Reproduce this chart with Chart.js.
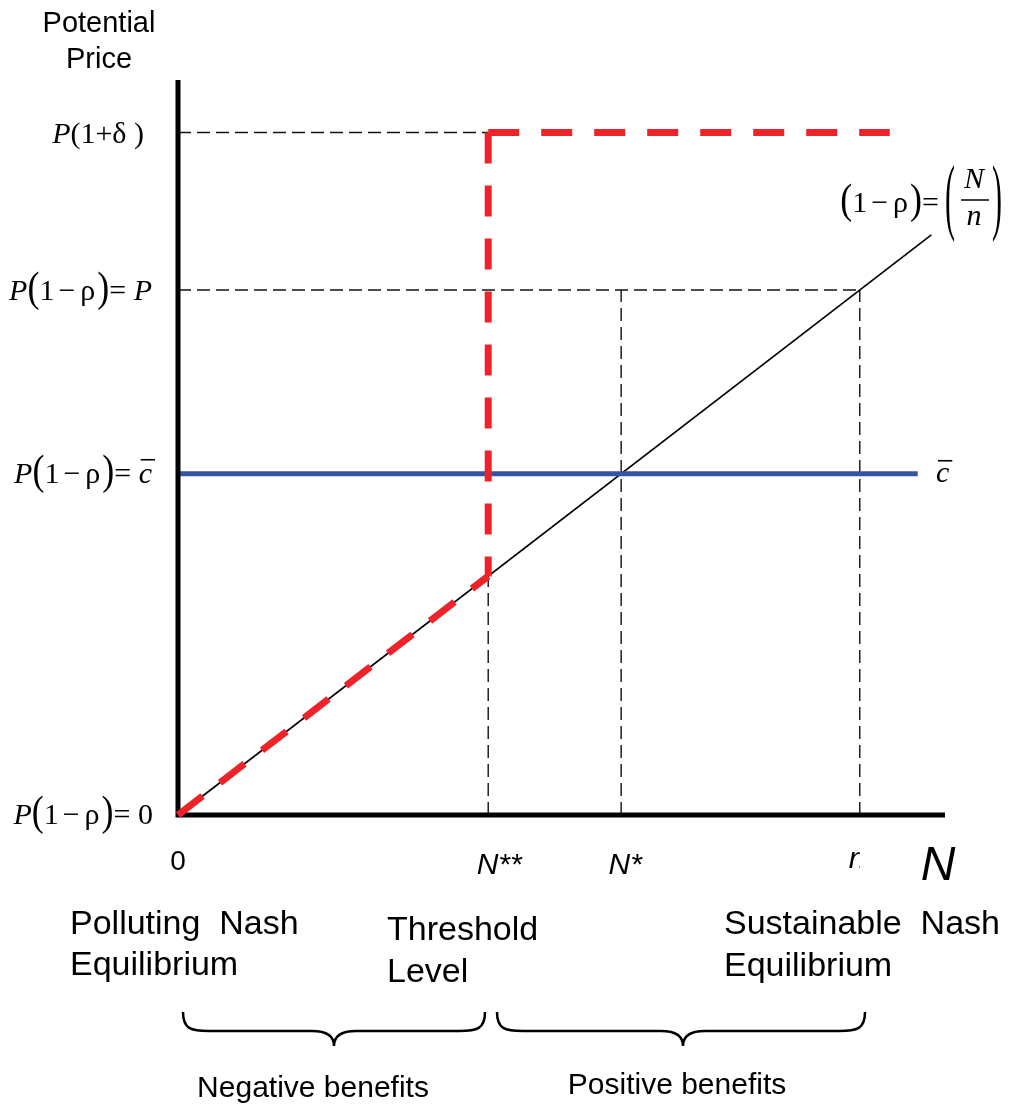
<!DOCTYPE html>
<html>
<head>
<meta charset="utf-8">
<title>Threshold level</title>
<script src="https://cdn.jsdelivr.net/npm/chart.js@4.4.0/dist/chart.umd.min.js"></script>
<style>
  html, body { margin: 0; padding: 0; background: #fff; }
  canvas { display: block; }
</style>
</head>
<body>
<canvas id="thresholdChart" width="1009" height="1104"></canvas>
<script>
// Potential price against the number of conforming players N (P and n scaled to 1)
const axisMaxN = 1.125;
const axisMaxP = 1.4;

const xTickValues = [0, 0.455, 0.65, 1.0];          // 0, N**, N*, n
const xTickLabels = ['0', 'N**', 'N*', 'n'];
const yTickValues = [1.3, 1.0, 0.65, 0];            // P(1+δ), P, c̄, 0

// (1-ρ) = N/n
const priceLineN = [0, 1.105];
const priceLineP = [0, 1.105];

// cost level c̄
const costLineN = [0, 1.085];
const costLineP = [0.65, 0.65];

// red threshold path, one piece per side so each dash run starts at its corner
const thresholdSlopeN = [0, 0.455];
const thresholdSlopeP = [0, 0.455];
const thresholdJumpN = [0.455, 0.455];
const thresholdJumpP = [1.3, 0.455];
const thresholdTopN = [0.455, 1.044];
const thresholdTopP = [1.3, 1.3];

// dashed guides
const guideSets = [
  { n: [0, 0.455], p: [1.3, 1.3] },
  { n: [0, 1.0], p: [1.0, 1.0] },
  { n: [0.455, 0.455], p: [0, 0.455] },
  { n: [0.65, 0.65], p: [0, 1.0] },
  { n: [1.0, 1.0], p: [0, 1.0] },
];

const pts = (xs, ys) => xs.map((x, i) => ({ x: x, y: ys[i] }));

const SERIF = 'Liberation Serif';
const SANS = 'Liberation Sans';

const lineBase = { pointRadius: 0, fill: false, tension: 0, borderCapStyle: 'butt', clip: false };
const redDash = { borderColor: '#ee2229', borderWidth: 7, borderDash: [31, 22], order: 0 };

const datasets = [
  Object.assign({}, lineBase, redDash, { data: pts(thresholdSlopeN, thresholdSlopeP) }),
  Object.assign({}, lineBase, redDash, { data: pts(thresholdJumpN, thresholdJumpP) }),
  Object.assign({}, lineBase, redDash, { data: pts(thresholdTopN, thresholdTopP) }),
  Object.assign({}, lineBase, {
    data: pts([0, 0, axisMaxN], [axisMaxP, 0, 0]),
    borderColor: '#000', borderWidth: 5, borderJoinStyle: 'miter', order: 1
  }),
  Object.assign({}, lineBase, {
    data: pts(costLineN, costLineP),
    borderColor: '#3353a5', borderWidth: 5, order: 2
  }),
  Object.assign({}, lineBase, {
    data: pts(priceLineN, priceLineP),
    borderColor: '#000', borderWidth: 1.6, order: 3
  }),
];
guideSets.forEach(g => {
  datasets.push(Object.assign({}, lineBase, {
    data: pts(g.n, g.p),
    borderColor: '#111', borderWidth: 1.4, borderDash: [13, 6], order: 4
  }));
});

// text made of pieces with different fonts; sy stretches a glyph vertically
function drawRich(ctx, parts, x, y, align) {
  let w = 0;
  parts.forEach(p => {
    ctx.font = p.f;
    p.w = ctx.measureText(p.t).width + (p.gap || 0);
    w += p.w;
  });
  let cx = align === 'right' ? x - w : (align === 'center' ? x - w / 2 : x);
  ctx.textAlign = 'left';
  ctx.textBaseline = 'alphabetic';
  parts.forEach(p => {
    ctx.font = p.f;
    if (p.sy) {
      const fs = parseFloat(p.f.match(/(\d+(\.\d+)?)px/)[1]);
      const mid = 0.255 * fs;
      ctx.save();
      ctx.translate(cx, y - mid);
      ctx.scale(1, p.sy);
      ctx.fillText(p.t, 0, mid);
      ctx.restore();
    } else {
      ctx.fillText(p.t, cx, y);
    }
    if (p.bar) {
      const gw = ctx.measureText(p.t).width;
      ctx.beginPath();
      ctx.lineWidth = 1.6;
      ctx.moveTo(cx + 2, y - p.bar);
      ctx.lineTo(cx + gw + 3, y - p.bar);
      ctx.stroke();
    }
    cx += p.w;
  });
}

function oneMinusRho(size) {
  const reg = size + 'px "' + SERIF + '"';
  const big = Math.round(size * 1.2) + 'px "' + SERIF + '"';
  return [
    { t: '(', f: big, sy: 1.15 },
    { t: '1', f: reg, gap: 4 },
    { t: '−', f: reg, gap: 5 },
    { t: 'ρ', f: reg, gap: 2 },
    { t: ')', f: big, sy: 1.15 },
  ];
}

function drawBrace(ctx, x1, x2, tip, top, mid, bottom) {
  ctx.beginPath();
  ctx.moveTo(x1, top);
  ctx.bezierCurveTo(x1, mid - 2, x1 + 8, mid, x1 + 26, mid);
  ctx.lineTo(tip - 22, mid);
  ctx.bezierCurveTo(tip - 8, mid, tip, mid + 4, tip, bottom);
  ctx.bezierCurveTo(tip, mid + 4, tip + 8, mid, tip + 22, mid);
  ctx.lineTo(x2 - 26, mid);
  ctx.bezierCurveTo(x2 - 8, mid, x2, mid - 2, x2, top);
  ctx.stroke();
}

const labelPlugin = {
  id: 'labels',
  afterDatasetsDraw(chart) {
    const ctx = chart.ctx;
    const xs = chart.scales.x, ys = chart.scales.y;
    ctx.save();
    ctx.fillStyle = '#000';
    ctx.strokeStyle = '#000';

    // axis title
    ctx.font = '29px "' + SANS + '"';
    ctx.textAlign = 'center';
    ctx.textBaseline = 'alphabetic';
    ctx.fillText('Potential', 99, 32);
    ctx.fillText('Price', 99, 68);

    // y tick labels
    const it = 'italic 30px "' + SERIF + '"';
    const rg = '30px "' + SERIF + '"';
    const yLabelParts = [
      [{ t: 'P', f: it }, { t: '(1+δ )', f: rg }],
      [{ t: 'P', f: it }].concat(oneMinusRho(30), [{ t: '= ', f: rg }, { t: 'P', f: it }]),
      [{ t: 'P', f: it }].concat(oneMinusRho(30), [{ t: '= ', f: rg }, { t: 'c', f: it, bar: 23 }]),
      [{ t: 'P', f: it }].concat(oneMinusRho(30), [{ t: '= 0', f: rg }]),
    ];
    const yLabelRight = [144, 152, 152, 153];
    const yLabelDrop = [10, 10, 9, 9];
    yTickValues.forEach((v, i) => {
      drawRich(ctx, yLabelParts[i], yLabelRight[i], ys.getPixelForValue(v) + yLabelDrop[i], 'right');
    });

    // x tick labels
    const xLabelShift = [0, 11, 4, 0];
    xTickValues.forEach((v, i) => {
      const px = xs.getPixelForValue(v) + xLabelShift[i];
      ctx.textAlign = 'center';
      if (i === 0) {
        ctx.font = '28px "' + SANS + '"';
        ctx.fillText(xTickLabels[i], px, 870);
      } else if (i === 3) {
        // the n label is cut by its box
        ctx.save();
        ctx.beginPath();
        ctx.rect(px - 20, 830, 20, 60);
        ctx.clip();
        ctx.font = 'italic 30px "' + SANS + '"';
        ctx.textAlign = 'left';
        ctx.fillText(xTickLabels[i], px - 11, 868);
        ctx.restore();
      } else {
        ctx.font = 'italic 30px "' + SANS + '"';
        ctx.fillText(xTickLabels[i], px, 874);
      }
    });

    // x axis name
    ctx.font = 'italic 48px "' + SANS + '"';
    ctx.textAlign = 'center';
    ctx.fillText('N', 938, 880);

    // c̄ at the end of the cost line
    drawRich(ctx, [{ t: 'c', f: it, bar: 21 }], 936, ys.getPixelForValue(0.65) + 8, 'left');

    // (1-ρ) = (N / n)
    drawRich(ctx, oneMinusRho(30).concat([{ t: '=', f: rg }]), 939, 212, 'right');
    const bigParen = '30px "' + SERIF + '"';
    drawRich(ctx, [{ t: '(', f: bigParen, sy: 2.8 }], 945, 210, 'left');
    drawRich(ctx, [{ t: ')', f: bigParen, sy: 2.8 }], 992, 210, 'left');
    ctx.font = it;
    ctx.textAlign = 'center';
    ctx.fillText('N', 974, 188);
    ctx.fillText('n', 974, 225);
    ctx.beginPath();
    ctx.lineWidth = 1.5;
    ctx.moveTo(961, 200);
    ctx.lineTo(989, 200);
    ctx.stroke();

    // equilibrium notes under the axis
    ctx.font = '34px "' + SANS + '"';
    ctx.textAlign = 'left';
    ctx.fillText('Polluting  Nash', 70, 934);
    ctx.fillText('Equilibrium', 70, 975);
    ctx.fillText('Threshold', 387, 940);
    ctx.fillText('Level', 387, 982);
    ctx.fillText('Sustainable  Nash', 724, 934);
    ctx.fillText('Equilibrium', 724, 976);

    // braces
    ctx.lineWidth = 2.5;
    drawBrace(ctx, 183, 485, 334, 1012, 1031, 1046);
    drawBrace(ctx, 497, 865, 683, 1012, 1031, 1046);

    ctx.font = '30px "' + SANS + '"';
    ctx.textAlign = 'center';
    ctx.fillText('Negative benefits', 313, 1097);
    ctx.fillText('Positive benefits', 677, 1094);

    ctx.restore();
  }
};

new Chart(document.getElementById('thresholdChart'), {
  type: 'line',
  data: { datasets: datasets },
  options: {
    responsive: false,
    animation: false,
    devicePixelRatio: 1,
    layout: { padding: { left: 178, top: 80, right: 64, bottom: 289 } },
    scales: {
      x: { type: 'linear', min: 0, max: axisMaxN, display: false },
      y: { type: 'linear', min: 0, max: axisMaxP, display: false }
    },
    plugins: {
      legend: { display: false },
      tooltip: { enabled: false }
    }
  },
  plugins: [labelPlugin]
});
</script>
</body>
</html>
